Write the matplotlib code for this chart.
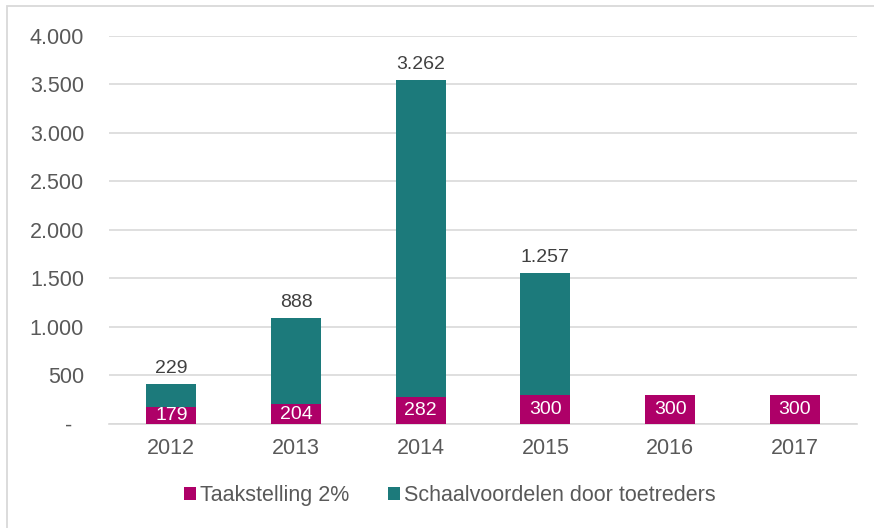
import matplotlib.pyplot as plt
from matplotlib.patches import Rectangle
from matplotlib.ticker import FuncFormatter

# data
jaren = ['2012', '2013', '2014', '2015', '2016', '2017']
taakstelling = [179, 204, 282, 300, 300, 300]
schaalvoordelen = [229, 888, 3262, 1257, 0, 0]

magenta = '#AE0068'
teal = '#1C7A7B'
tekst = '#595959'

plt.rcParams['font.family'] = ['Liberation Sans', 'DejaVu Sans']

fig = plt.figure(figsize=(8.74, 5.28), dpi=100)
ax = fig.add_axes([0.1247, 0.197, 0.856, 0.735])

# rand rond de figuur (rechts en onder valt buiten beeld)
fig.patches.append(Rectangle((0.008, -0.05), 1.1, 1.039, transform=fig.transFigure,
                             fill=False, edgecolor='#D9D9D9', linewidth=1.3))

x = range(len(jaren))
b1 = ax.bar(x, taakstelling, width=0.4, color=magenta, label='Taakstelling 2%', zorder=3)
b2 = ax.bar(x, schaalvoordelen, width=0.4, bottom=taakstelling, color=teal,
            label='Schaalvoordelen door toetreders', zorder=3)

# labels in de magenta balken
for i, v in enumerate(taakstelling):
    ax.text(i, v / 2, str(v), ha='center', va='center', color='white', fontsize=14, zorder=4)

# labels boven de balken
for i, v in enumerate(schaalvoordelen):
    if v > 0:
        tot = taakstelling[i] + v
        ax.text(i, tot + 75, f'{v:,}'.replace(',', '.'), ha='center', va='bottom',
                color='#404040', fontsize=14)

def fmt(val, pos):
    if val == 0:
        return '-  '
    return f'{int(val):,}'.replace(',', '.')

ax.set_ylim(0, 4000)
ax.set_xlim(-0.5, 5.5)
ax.set_yticks(range(0, 4001, 500))
ax.yaxis.set_major_formatter(FuncFormatter(fmt))
ax.set_xticks(list(x))
ax.set_xticklabels(jaren)
ax.tick_params(axis='both', length=0, labelsize=15.5, colors=tekst)
ax.tick_params(axis='y', pad=18)
ax.tick_params(axis='x', pad=10)
ax.grid(axis='y', color='#D9D9D9', linewidth=1.2, zorder=0)
for s in ['top', 'right', 'left']:
    ax.spines[s].set_visible(False)
ax.spines['bottom'].set_color('#D9D9D9')
ax.spines['bottom'].set_linewidth(1.2)

fig.legend(handles=[b1, b2], loc='center', bbox_to_anchor=(0.515, 0.062), ncol=2,
           frameon=False, fontsize=15.5, labelcolor=tekst, handlelength=0.55,
           handleheight=0.55, handletextpad=0.2, columnspacing=1.8)

fig.savefig('out.png', dpi=100)
